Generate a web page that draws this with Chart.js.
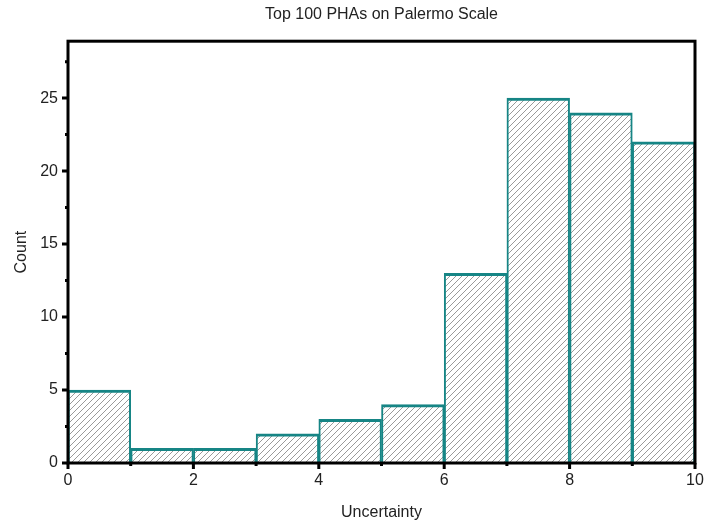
<!DOCTYPE html>
<html>
<head>
<meta charset="utf-8">
<script src="https://cdn.jsdelivr.net/npm/chart.js@4"></script>
<style>
    html, body { margin: 0; padding: 0; background: #fff; }
    #wrap { width: 704px; height: 522px; }
</style>
</head>
<body>
<div id="wrap"><canvas id="histChart" width="704" height="522"></canvas></div>
<script>
// Dane histogramu
const binCenters = [0.5, 1.5, 2.5, 3.5, 4.5, 5.5, 6.5, 7.5, 8.5, 9.5];
const counts = [5, 1, 1, 2, 3, 4, 13, 25, 24, 22];
const xMajorTicks = [0, 2, 4, 6, 8, 10];
const xMinorTicks = [1, 3, 5, 7, 9];
const yMajorTicks = [0, 5, 10, 15, 20, 25];
const yMinorTicks = [2.5, 7.5, 12.5, 17.5, 22.5, 27.5];

const FONT = 'Liberation Sans, Arial, sans-serif';
const TEAL = '#168585';
const TEXT = '#222';

/**
 * Wzór kreskowania ukośnego
 */
function makeHatch() {
    const size = 6;
    const c = document.createElement('canvas');
    c.width = size;
    c.height = size;
    const g = c.getContext('2d');
    g.fillStyle = '#fff';
    g.fillRect(0, 0, size, size);
    g.strokeStyle = '#9a9a9a';
    g.lineWidth = 1;
    g.beginPath();
    g.moveTo(-1, size + 1);
    g.lineTo(size + 1, -1);
    g.moveTo(-1, 1);
    g.lineTo(1, -1);
    g.moveTo(size - 1, size + 1);
    g.lineTo(size + 1, size - 1);
    g.stroke();
    return g.createPattern(c, 'repeat');
}

// Ramka i znaczniki osi
const framePlugin = {
    id: 'frame',
    afterDraw(chart) {
        const ctx = chart.ctx;
        const a = chart.chartArea;
        const xs = chart.scales.x;
        const ys = chart.scales.y;
        ctx.save();
        ctx.strokeStyle = '#000';
        ctx.lineWidth = 3;
        ctx.strokeRect(a.left, a.top, a.right - a.left, a.bottom - a.top);

        ctx.beginPath();
        xMajorTicks.forEach(v => {
            const px = xs.getPixelForValue(v);
            ctx.moveTo(px, a.bottom);
            ctx.lineTo(px, a.bottom + 6);
        });
        xMinorTicks.forEach(v => {
            const px = xs.getPixelForValue(v);
            ctx.moveTo(px, a.bottom);
            ctx.lineTo(px, a.bottom + 3);
        });
        yMajorTicks.forEach(v => {
            const py = ys.getPixelForValue(v);
            ctx.moveTo(a.left, py);
            ctx.lineTo(a.left - 6, py);
        });
        yMinorTicks.forEach(v => {
            const py = ys.getPixelForValue(v);
            ctx.moveTo(a.left, py);
            ctx.lineTo(a.left - 3, py);
        });
        ctx.stroke();
        ctx.restore();
    }
};

const ctx = document.getElementById('histChart').getContext('2d');

new Chart(ctx, {
    type: 'bar',
    data: {
        datasets: [{
            data: binCenters.map((x, i) => ({ x: x, y: counts[i] })),
            backgroundColor: makeHatch(),
            borderColor: TEAL,
            borderWidth: { top: 3, left: 2, right: 2, bottom: 0 },
            borderSkipped: false,
            barPercentage: 1,
            categoryPercentage: 1,
        }],
    },
    options: {
        responsive: false,
        animation: false,
        devicePixelRatio: 1,
        layout: { padding: { left: 0, right: 9, top: 0, bottom: 0 } },
        plugins: {
            legend: { display: false },
            tooltip: { enabled: false },
            title: {
                display: true,
                text: 'Top 100 PHAs on Palermo Scale',
                fullSize: false,
                color: TEXT,
                font: { family: FONT, size: 16, weight: 'normal' },
                padding: { top: 5, bottom: 17 },
            },
        },
        scales: {
            x: {
                type: 'linear',
                offset: false,
                min: 0,
                max: 10,
                grid: { display: false, drawTicks: false, offset: false },
                border: { display: false },
                ticks: {
                    stepSize: 2,
                    padding: 8,
                    color: TEXT,
                    font: { family: FONT, size: 16 },
                    maxRotation: 0,
                },
                title: {
                    display: true,
                    text: 'Uncertainty',
                    color: TEXT,
                    font: { family: FONT, size: 16 },
                    padding: { top: 0, bottom: 0 },
                },
                afterFit(scale) {
                    scale.height = 59;
                    scale.paddingLeft = 0;
                    scale.paddingRight = 0;
                },
            },
            y: {
                min: 0,
                max: 28.9,
                grid: { display: false, drawTicks: false },
                border: { display: false },
                ticks: {
                    stepSize: 5,
                    includeBounds: false,
                    padding: 10,
                    color: TEXT,
                    font: { family: FONT, size: 16 },
                },
                title: {
                    display: true,
                    text: 'Count',
                    color: TEXT,
                    font: { family: FONT, size: 16 },
                    padding: { top: 12, bottom: 0 },
                },
                afterFit(scale) { scale.width = 68; },
            },
        },
    },
    plugins: [framePlugin],
});
</script>
</body>
</html>
